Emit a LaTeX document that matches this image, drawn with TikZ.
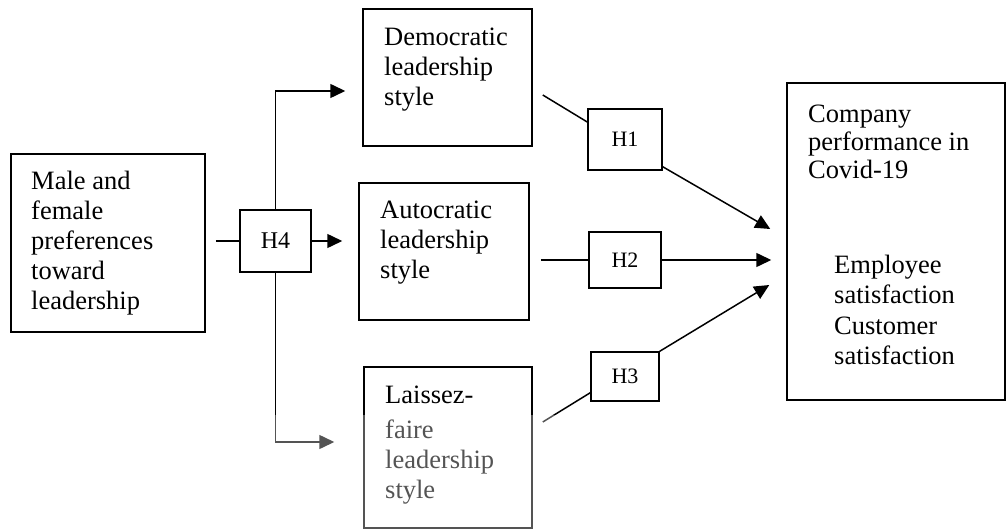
\documentclass[tikz,border=0pt]{standalone}
\usepackage{fontspec}
\setmainfont{Liberation Serif}
\usetikzlibrary{arrows.meta,calc}
\begin{document}
\begin{tikzpicture}[x=1pt,y=-1pt,
  box/.style={draw, line width=1.5pt, inner sep=0pt},
  hbox/.style={draw, line width=1.5pt, inner sep=0pt, font=\fontsize{22}{24}\selectfont},
  txt/.style={anchor=base west, align=left, inner sep=0pt, font=\fontsize{26.5}{30}\selectfont},
  conn/.style={line width=1.5pt},
  arr/.style={line width=1.5pt, -{Triangle[length=15pt,width=14pt]}},
]
\useasboundingbox (0,0) rectangle (1008,529);

% main boxes
\node[box, minimum width=194pt, minimum height=178pt] (male) at (108,243) {};
\node[box, minimum width=169pt, minimum height=137pt] (dem) at (447.5,77.5) {};
\node[box, minimum width=170pt, minimum height=137pt] (aut) at (444,251.5) {};
\node[box, minimum width=168pt, minimum height=161pt] (lai) at (448,447.5) {};
\node[box, minimum width=218pt, minimum height=317pt] (comp) at (896,241.5) {};

% hypothesis boxes
\node[hbox, minimum width=71pt, minimum height=62pt, font=\fontsize{24}{26}\selectfont] (h4) at (275.5,241) {H4};
\node[hbox, minimum width=74pt, minimum height=61pt] (h1) at (625,139.5) {H1};
\node[hbox, minimum width=72pt, minimum height=56pt] (h2) at (625,260) {H2};
\node[hbox, minimum width=68pt, minimum height=49pt] (h3) at (625,376.5) {H3};

% texts (base anchor = baseline of the last line)
\node[txt] (male-t) at (31,309) {Male and\\female\\preferences\\toward\\leadership};
\node[txt] (dem-t) at (384,106) {Democratic\\leadership\\style};
\node[txt] (aut-t) at (380,278) {Autocratic\\leadership\\style};
\node[txt] (lai-t) at (385,498) {Laissez-\\[5pt]faire\\leadership\\style};
\node[txt, font=\fontsize{26.5}{28}\selectfont] (comp-t) at (808,179) {Company\\performance in\\Covid-19};
\node[txt, font=\fontsize{26.5}{30.5}\selectfont] (comp-s) at (834,364.5) {Employee\\satisfaction\\Customer\\satisfaction};

% H4 connectors
\draw[conn, shorten <=10pt] (male.east |- h4.west) -- (h4.west);
\draw[arr, shorten >=16pt] (h4.east) -- (h4.east -| aut.west);
\coordinate (tdem) at ($(dem.west)+(-17,13.5)$);
\coordinate (tlai) at ($(lai.west)+(-29,-5.5)$);
\draw[arr] (h4.north) |- (tdem);
\draw[arr] (h4.south) |- (tlai);

% H1
\coordinate (sdem) at ($(dem.east)+(10,17.5)$);
\coordinate (eh1) at ($(h1.west)+(0,-17.5)$);
\coordinate (xh1) at ($(h1.south east)+(0,-4)$);
\coordinate (t1) at ($(comp.west)+(-16,-12.5)$);
\draw[conn] (sdem) -- (eh1);
\draw[arr] (xh1) -- (t1);

% H2
\draw[conn, shorten <=11pt] (aut.east |- h2.west) -- (h2.west);
\draw[arr, shorten >=15pt] (h2.east) -- (h2.east -| comp.west);

% H3
\coordinate (slai) at ($(lai.east)+(10,-25.5)$);
\coordinate (eh3) at ($(h3.south west)+(0,-9)$);
\coordinate (t3) at ($(comp.west)+(-17,43.5)$);
\draw[conn] (slai) -- (eh3);
\draw[arr] (h3.north east) -- (t3);

% faded lower band (as in the reference scan)
\fill[white, opacity=0.33] (0,415) rectangle (1008,529);
\end{tikzpicture}
\end{document}
